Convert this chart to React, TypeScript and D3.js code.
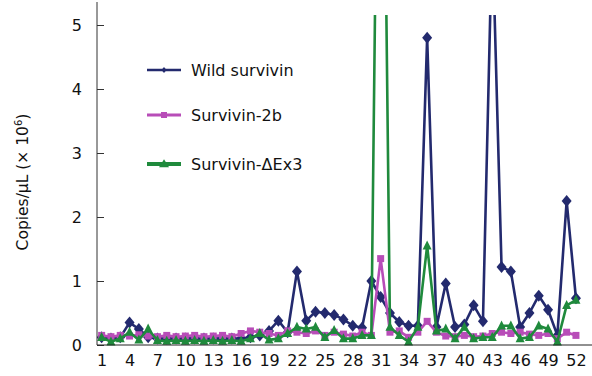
import React, { useRef, useEffect } from "react";
import * as d3 from "d3";

const samples = d3.range(1, 53);
const xTicks = [1, 4, 7, 10, 13, 16, 19, 22, 25, 28, 31, 34, 37, 40, 43, 46, 49, 52];
const yTicks = [0, 1, 2, 3, 4, 5];

const wild = [
  0.12, 0.1, 0.12, 0.35, 0.25, 0.12, 0.1, 0.1, 0.1, 0.1,
  0.1, 0.1, 0.1, 0.1, 0.1, 0.1, 0.12, 0.15, 0.22, 0.38,
  0.2, 1.15, 0.38, 0.52, 0.5, 0.47, 0.4, 0.3, 0.27, 1.0,
  0.75, 0.5, 0.36, 0.3, 0.3, 4.8, 0.28, 0.96, 0.28, 0.32,
  0.62, 0.37, 6.5, 1.22, 1.15, 0.28, 0.5, 0.77, 0.55, 0.15,
  2.25, 0.73,
];

const surv2b = [
  0.15, 0.13, 0.15, 0.14, 0.16, 0.14, 0.13, 0.15, 0.13, 0.14,
  0.15, 0.13, 0.14, 0.15, 0.13, 0.18, 0.22, 0.2, 0.18, 0.15,
  0.22, 0.2, 0.18, 0.22, 0.15, 0.2, 0.17, 0.14, 0.2, 0.15,
  1.35, 0.2, 0.22, 0.12, 0.2, 0.37, 0.2, 0.14, 0.13, 0.15,
  0.13, 0.14, 0.18, 0.2, 0.18, 0.2, 0.17, 0.15, 0.18, 0.1,
  0.2, 0.15,
];

const survEx3 = [
  0.12, 0.05, 0.1, 0.2, 0.08, 0.25, 0.07, 0.06, 0.07, 0.06,
  0.07, 0.06, 0.07, 0.06, 0.07, 0.06, 0.1, 0.18, 0.08, 0.1,
  0.18, 0.28, 0.25, 0.28, 0.12, 0.23, 0.1, 0.1, 0.15, 0.15,
  13, 0.28, 0.15, 0.05, 0.28, 1.55, 0.22, 0.25, 0.1, 0.28,
  0.1, 0.12, 0.12, 0.3, 0.3, 0.1, 0.12, 0.3, 0.25, 0.05,
  0.62, 0.7,
];

const seriesNames = ["Wild survivin", "Survivin-2b", "Survivin-\u0394Ex3"];
const colors = ["#232a6e", "#b84db8", "#1f8a3c"];

const FONT = "DejaVu Sans";

// marker paths centred on 0,0
const diamond = (w, h) => `M0,${-h}L${w},0L0,${h}L${-w},0Z`;
const square = (s) => `M${-s},${-s}H${s}V${s}H${-s}Z`;
const triangle = (w, h) => `M0,${-h * 0.6}L${w},${h * 0.4}H${-w}Z`;

function Chart() {
  const svgRef = useRef(null);

  useEffect(() => {
    const width = 592;
    const height = 376;
    const left = 97;
    const right = 592;
    const top = 15;
    const bottom = 345;

    const svg = d3.select(svgRef.current).attr("width", width).attr("height", height);
    svg.selectAll("*").remove();

    const x = d3.scalePoint().domain(samples).range([101.65, 575.95]);
    const y = d3.scaleLinear().domain([0, 5]).range([bottom, 25]);

    svg.append("defs")
      .append("clipPath")
      .attr("id", "plot-clip")
      .append("rect")
      .attr("x", left)
      .attr("y", top)
      .attr("width", right - left)
      .attr("height", height - top);

    const series = [
      { values: wild, color: colors[0], width: 2.6, marker: diamond(5, 6) },
      { values: surv2b, color: colors[1], width: 2.6, marker: square(3.5) },
      { values: survEx3, color: colors[2], width: 2.6, marker: triangle(4.5, 9) },
    ];

    const line = d3.line()
      .x((d, i) => x(samples[i]))
      .y((d) => y(d));

    const plot = svg.append("g").attr("clip-path", "url(#plot-clip)");

    series.forEach((s) => {
      const g = plot.append("g");
      g.append("path")
        .datum(s.values)
        .attr("d", line)
        .attr("fill", "none")
        .attr("stroke", s.color)
        .attr("stroke-width", s.width)
        .attr("stroke-linejoin", "round");

      g.selectAll("path.mk")
        .data(s.values)
        .enter()
        .append("path")
        .attr("class", "mk")
        .attr("d", s.marker)
        .attr("transform", (d, i) => `translate(${x(samples[i])},${y(d)})`)
        .attr("fill", s.color);
    });

    // Y axis
    const yAxis = svg.append("g")
      .attr("transform", `translate(${left},0)`)
      .call(
        d3.axisLeft(y)
          .tickValues(yTicks)
          .tickFormat(d3.format("d"))
          .tickSizeInner(-7)
          .tickSizeOuter(0)
          .tickPadding(15)
      );
    yAxis.select(".domain").remove();
    yAxis.selectAll("line").attr("stroke", "#333");
    yAxis.selectAll("text")
      .attr("font-family", FONT)
      .attr("font-size", 16)
      .attr("fill", "#111");

    svg.append("line")
      .attr("x1", left).attr("x2", left)
      .attr("y1", 2).attr("y2", bottom)
      .attr("stroke", "#333")
      .attr("stroke-width", 1);

    // X axis
    const xAxis = svg.append("g")
      .attr("transform", `translate(0,${bottom})`)
      .call(d3.axisBottom(x).tickValues(xTicks).tickSize(0).tickPadding(10));
    xAxis.select(".domain").remove();
    xAxis.selectAll("text")
      .attr("font-family", FONT)
      .attr("font-size", 16)
      .attr("fill", "#111");

    svg.append("line")
      .attr("x1", left).attr("x2", right)
      .attr("y1", bottom).attr("y2", bottom)
      .attr("stroke", "#222")
      .attr("stroke-width", 1.2);

    // Y label
    const yl = svg.append("text")
      .attr("transform", "translate(28,182) rotate(-90)")
      .attr("text-anchor", "middle")
      .attr("font-family", FONT)
      .attr("font-size", 15.5)
      .attr("fill", "#111");
    yl.append("tspan").text("Copies/\u00b5L (\u00d7 10");
    yl.append("tspan").attr("font-size", 10).attr("dy", -6).text("6");
    yl.append("tspan").attr("dy", 6).text(")");

    // Legend
    const legendY = [70, 115, 164];
    const legendMarkers = [diamond(2.5, 3), square(3), triangle(5, 8)];
    const legendWidths = [2.5, 3, 4];
    seriesNames.forEach((name, i) => {
      const g = svg.append("g").attr("transform", `translate(0,${legendY[i]})`);
      g.append("line")
        .attr("x1", 147).attr("x2", 181)
        .attr("stroke", colors[i])
        .attr("stroke-width", legendWidths[i]);
      g.append("path")
        .attr("d", legendMarkers[i])
        .attr("transform", "translate(164,0)")
        .attr("fill", colors[i]);
      g.append("text")
        .attr("x", 191)
        .attr("y", 6)
        .attr("font-family", FONT)
        .attr("font-size", 16)
        .attr("fill", "#111")
        .text(name);
    });
  }, []);

  return <svg ref={svgRef} style={{ position: "absolute", left: 0, top: 0 }}></svg>;
}

export default function App() {
  return <Chart />;
}
